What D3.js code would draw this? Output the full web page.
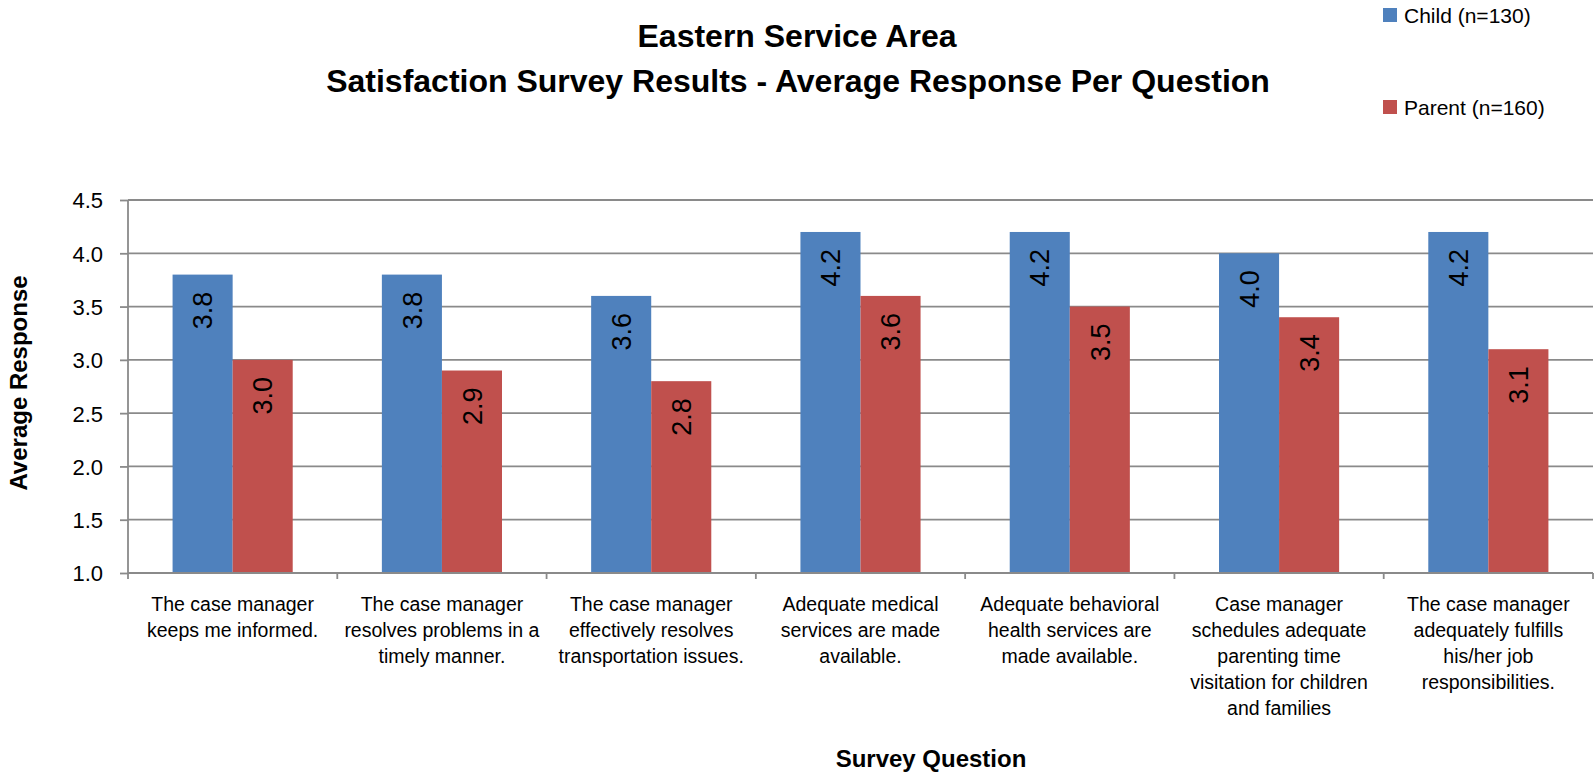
<!DOCTYPE html>
<html>
<head>
<meta charset="utf-8">
<script src="https://cdn.jsdelivr.net/npm/d3@7"></script>
<style>
  body { margin: 0; background: #fff; }
  svg text { font-family: "Liberation Sans", Arial, sans-serif; fill: #000; }
</style>
</head>
<body>
<div id="chart"></div>
<script>
// chart data
var categories = [
  ["The case manager", "keeps me informed."],
  ["The case manager", "resolves problems in a", "timely manner."],
  ["The case manager", "effectively resolves", "transportation issues."],
  ["Adequate medical", "services are made", "available."],
  ["Adequate behavioral", "health services are", "made available."],
  ["Case manager", "schedules adequate", "parenting time", "visitation for children", "and families"],
  ["The case manager", "adequately fulfills", "his/her job", "responsibilities."]
];
var childValues = [3.8, 3.8, 3.6, 4.2, 4.2, 4.0, 4.2];
var parentValues = [3.0, 2.9, 2.8, 3.6, 3.5, 3.4, 3.1];
var seriesNames = ["Child (n=130)", "Parent (n=160)"];
var seriesColors = ["#4F81BD", "#C0504D"];
var yTicks = [1.0, 1.5, 2.0, 2.5, 3.0, 3.5, 4.0, 4.5];

var width = 1596, height = 779;
var margin = { left: 128, right: 3, top: 200, bottom: 206 };

var svg = d3.select("#chart").append("svg")
  .attr("width", width)
  .attr("height", height);

var x0 = d3.scaleBand()
  .domain(d3.range(categories.length))
  .range([margin.left, width - margin.right])
  .paddingInner(0.426)
  .paddingOuter(0.213);

var x1 = d3.scaleBand()
  .domain([0, 1])
  .range([0, x0.bandwidth()]);

var y = d3.scaleLinear()
  .domain([1.0, 4.5])
  .range([height - margin.bottom, margin.top]);

// gridlines
svg.append("g")
  .selectAll("line")
  .data(yTicks.slice(1))
  .enter().append("line")
  .attr("x1", margin.left)
  .attr("x2", width - margin.right)
  .attr("y1", function(d) { return y(d); })
  .attr("y2", function(d) { return y(d); })
  .attr("stroke", "#8a8a8a")
  .attr("stroke-width", 1.8);

// y axis
var yAxis = svg.append("g")
  .attr("transform", "translate(" + margin.left + ",0)")
  .call(d3.axisLeft(y).tickValues(yTicks).tickFormat(d3.format(".1f")).tickSize(8).tickPadding(17));
yAxis.selectAll("line, path").attr("stroke", "#8a8a8a").attr("stroke-width", 1.8);
yAxis.select(".domain").attr("d", "M0," + y(4.5) + "V" + y(1.0));
yAxis.selectAll("text").style("font-size", "22px").attr("dy", "0.36em");

// bars
var groups = svg.append("g")
  .selectAll("g")
  .data(categories)
  .enter().append("g")
  .attr("transform", function(d, i) { return "translate(" + x0(i) + ",0)"; });

var bars = groups.selectAll("g.bar")
  .data(function(d, i) { return [childValues[i], parentValues[i]]; })
  .enter().append("g")
  .attr("class", "bar");

bars.append("rect")
  .attr("x", function(d, j) { return x1(j); })
  .attr("y", function(d) { return y(d); })
  .attr("width", x1.bandwidth())
  .attr("height", function(d) { return y(1.0) - y(d); })
  .attr("fill", function(d, j) { return seriesColors[j]; });

bars.append("text")
  .attr("transform", function(d, j) {
    return "translate(" + (x1(j) + x1.bandwidth() / 2) + "," + (y(d) + 17) + ") rotate(-90)";
  })
  .attr("text-anchor", "end")
  .attr("dy", "0.36em")
  .style("font-family", "'Liberation Sans Narrow', 'Liberation Sans', sans-serif")
  .style("font-size", "27px")
  .text(function(d) { return d3.format(".1f")(d); });

// x axis
var xAxisY = y(1.0);
svg.append("line")
  .attr("x1", margin.left).attr("x2", width - margin.right)
  .attr("y1", xAxisY).attr("y2", xAxisY)
  .attr("stroke", "#8a8a8a").attr("stroke-width", 1.8);

var step = x0.step();
svg.append("g")
  .selectAll("line")
  .data(d3.range(categories.length + 1))
  .enter().append("line")
  .attr("x1", function(i) { return margin.left + i * step; })
  .attr("x2", function(i) { return margin.left + i * step; })
  .attr("y1", xAxisY)
  .attr("y2", xAxisY + 6)
  .attr("stroke", "#8a8a8a").attr("stroke-width", 1.8);

// category labels
svg.append("g")
  .selectAll("text")
  .data(categories)
  .enter().append("text")
  .attr("text-anchor", "middle")
  .style("font-size", "19.5px")
  .each(function(lines, i) {
    var t = d3.select(this);
    lines.forEach(function(line, k) {
      t.append("tspan")
        .attr("x", x0(i) + x0.bandwidth() / 2)
        .attr("y", 611 + k * 26)
        .text(line);
    });
  });

// titles
svg.append("text")
  .attr("x", 797).attr("y", 47)
  .attr("text-anchor", "middle")
  .style("font-size", "32px").style("font-weight", "bold")
  .text("Eastern Service Area");
svg.append("text")
  .attr("x", 798).attr("y", 92)
  .attr("text-anchor", "middle")
  .style("font-size", "32px").style("font-weight", "bold")
  .text("Satisfaction Survey Results - Average Response Per Question");

svg.append("text")
  .attr("x", 931).attr("y", 767)
  .attr("text-anchor", "middle")
  .style("font-size", "24px").style("font-weight", "bold")
  .text("Survey Question");

svg.append("text")
  .attr("transform", "translate(27,383) rotate(-90)")
  .attr("text-anchor", "middle")
  .style("font-size", "24px").style("font-weight", "bold")
  .text("Average Response");

// legend
var legend = svg.append("g")
  .selectAll("g")
  .data(seriesNames)
  .enter().append("g")
  .attr("transform", function(d, i) { return "translate(1383," + (8 + i * 92) + ")"; });
legend.append("rect")
  .attr("width", 14).attr("height", 14)
  .attr("fill", function(d, i) { return seriesColors[i]; });
legend.append("text")
  .attr("x", 21).attr("y", 15)
  .style("font-size", "21px")
  .text(function(d) { return d; });
</script>
</body>
</html>
